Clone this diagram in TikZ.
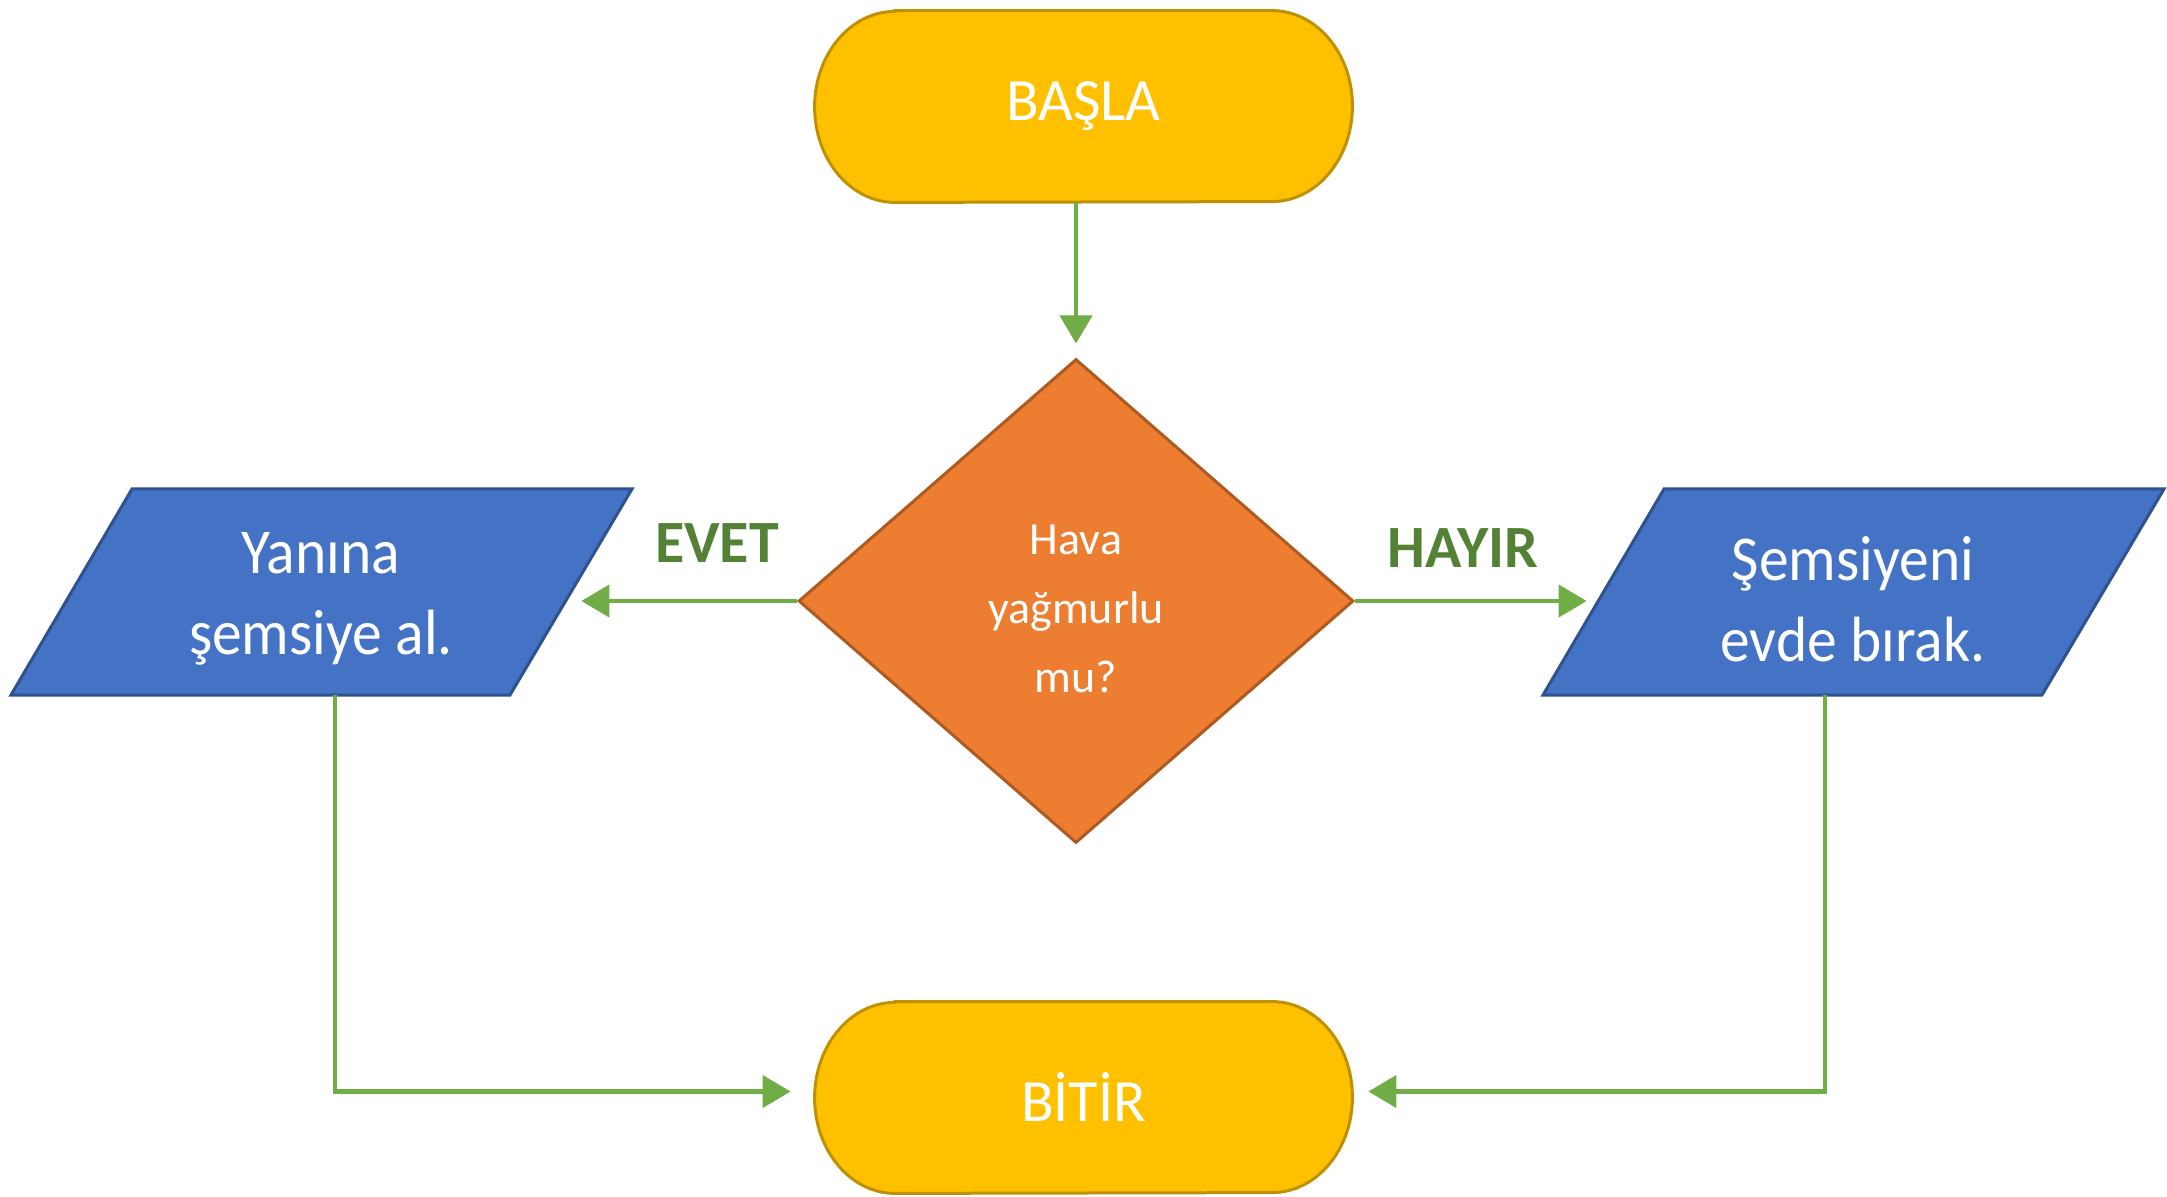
\documentclass[tikz,border=0pt]{standalone}
\usepackage{fontspec}
\setmainfont{Carlito}
\newfontfamily\iofont[FakeStretch=0.93]{Carlito}
\usetikzlibrary{shapes.geometric,arrows.meta,calc,backgrounds}

\definecolor{termfill}{HTML}{FFC000}
\definecolor{termline}{HTML}{BF9000}
\definecolor{decfill}{HTML}{ED7D31}
\definecolor{decline}{HTML}{AE5A21}
\definecolor{iofill}{HTML}{4472C4}
\definecolor{ioline}{HTML}{2F528F}
\definecolor{flow}{HTML}{70AD47}
\definecolor{labelgreen}{HTML}{538135}

% capsule outline (elliptical ends) around a terminal node
\newcommand\capsuleround[1]{%
  \draw[termshape] ($(#1.north west)+(80.5,0)$) -- ($(#1.north east)+(-80.5,0)$)
    arc[start angle=-90, end angle=90, x radius=80.5, y radius=95.5]
    -- ($(#1.south west)+(80.5,0)$)
    arc[start angle=90, end angle=270, x radius=80.5, y radius=95.5] -- cycle;}

% slanted input/output outline around a text node
\newcommand\slantbox[1]{%
  \draw[ioshape] ($(#1.center)+(-189,-110)$) -- ($(#1.center)+(311,-110)$)
    -- ($(#1.center)+(189,96)$) -- ($(#1.center)+(-310,96)$) -- cycle;}

\begin{document}
\begin{tikzpicture}[x=0.5pt,y=-0.5pt,
  termshape/.style={fill=termfill, draw=termline, line width=1.5pt},
  termnode/.style={minimum width=268.5pt, minimum height=95.5pt, inner sep=0pt,
    text=white, font=\fontsize{30}{36}\selectfont},
  decision/.style={diamond, minimum width=277.5pt, minimum height=242pt, inner sep=0pt,
    fill=decfill, draw=decline, line width=1.5pt},
  dectext/.style={text=white, align=center, inner sep=0pt,
    font=\fontsize{23}{34.5}\selectfont},
  ioshape/.style={fill=iofill, draw=ioline, line width=1.5pt},
  ionode/.style={minimum width=250pt, minimum height=103pt, inner sep=0pt,
    text=white, align=center, font=\iofont\fontsize{32}{40.5}\selectfont},
  branch/.style={text=labelgreen, font=\bfseries\fontsize{30}{36}\selectfont},
  flowline/.style={draw=flow, line width=2.2pt, -{Triangle[length=14pt,width=16pt]}}
]
\useasboundingbox (0,0) rectangle (2167,1197);

% nodes
\node[termnode] (start) at (1083.5,106.5) {BAŞLA};
\node[decision] (dec) at (1076,601) {};
\node[dectext] (question) at (1076,609) {Hava\\yağmurlu\\mu?};
\node[ionode] (yes) at (321,599) {Yanına\\şemsiye al.};
\node[ionode] (no) at (1853,599) {Şemsiyeni\\evde bırak.};
\node[termnode] (end) at (1083.5,1097.5) {BİTİR};

% outlines behind the texts
\begin{scope}[on background layer]
  \capsuleround{start}
  \capsuleround{end}
  \slantbox{yes}
  \slantbox{no}
\end{scope}

% branch labels
\node[branch] (evet) at (717,543) {EVET};
\node[branch] (hayir) at (1463,548) {HAYIR};

% connectors
\draw[flowline, shorten >=7pt] (start.south -| dec.north) -- (dec.north);
\draw[flowline, shorten >=5pt] (dec.west) -- (dec.west -| yes.east);
\draw[flowline, shorten >=8pt] (dec.east) -- (dec.east -| no.west);
\coordinate (yesout) at ($(yes.south)+(14,-7)$);
\coordinate (noout) at ($(no.south)+(-28,-7)$);
\draw[flowline, shorten >=12pt] (yesout) |- ($(end.west)+(0,-6)$);
\draw[flowline, shorten >=8pt] (noout) |- ($(end.east)+(0,-6)$);
\end{tikzpicture}
\end{document}
